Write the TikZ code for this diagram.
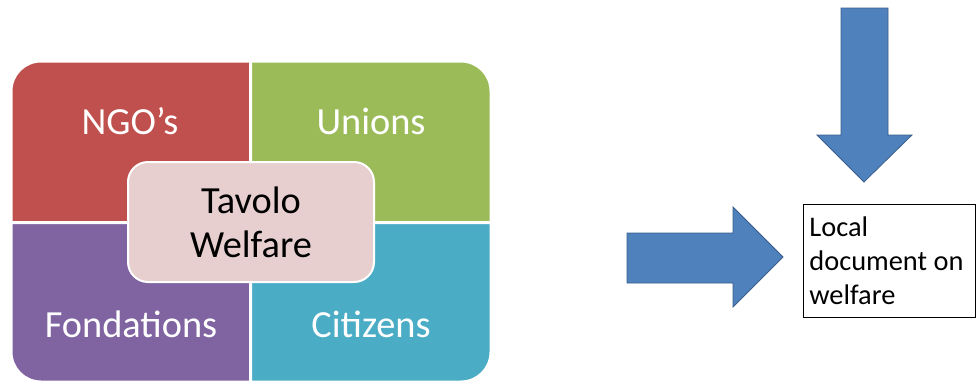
\documentclass[tikz,border=0pt]{standalone}
\usepackage{fontspec}
\setmainfont{Carlito}
\usepackage{xcolor}
\definecolor{Red}{RGB}{192,80,77}
\definecolor{Green}{RGB}{155,187,89}
\definecolor{Purple}{RGB}{128,100,162}
\definecolor{Teal}{RGB}{75,172,198}
\definecolor{Pink}{RGB}{231,207,207}
\definecolor{Blue}{RGB}{79,129,189}
\definecolor{DarkBlue}{RGB}{56,93,138}
\definecolor{Black}{RGB}{0,0,0}
\definecolor{White}{RGB}{255,255,255}
\newcommand{\bigfont}{\fontsize{38.5}{44}\selectfont}
\newcommand{\boxfont}{\fontsize{28.5}{34}\selectfont}

\begin{document}
\begin{tikzpicture}[x=1bp, y=-1bp]

		\useasboundingbox (0,0) rectangle (976,383);

		% Blocks
		\filldraw [fill=Red, draw=White, line width=3bp] (11,222.5) [rounded corners=30bp] -- (11,61) [sharp corners] -- (250.5,61) -- (250.5,222.5) -- cycle;
		\filldraw [fill=Green, draw=White, line width=3bp] (250.5,61) [rounded corners=30bp] -- (491,61) [sharp corners] -- (491,222.5) -- (250.5,222.5) -- cycle;
		\filldraw [fill=Purple, draw=White, line width=3bp] (250.5,382) [rounded corners=30bp] -- (11,382) [sharp corners] -- (11,222.5) -- (250.5,222.5) -- cycle;
		\filldraw [fill=Teal, draw=White, line width=3bp] (491,222.5) [rounded corners=30bp] -- (491,382) [sharp corners] -- (250.5,382) -- (250.5,222.5) -- cycle;

		% Names
		\node[align=center, color = White, font=\bigfont] (ngo) at (130,121) {NGO’s};
		\node[align=center, color = White, font=\bigfont] (unions) at (371,121) {Unions};
		\node[align=center, color = White, font=\bigfont] (fondations) at (131,324) {Fondations};
		\node[align=center, color = White, font=\bigfont] (citizens) at (371,324) {Citizens};

		% Centre
		\node[align=center, color = Black, font=\bigfont, fill=Pink, draw=White, line width=2bp, rounded corners=20bp, minimum width=246bp, minimum height=120bp, inner sep=0pt] (tavolo) at (251,222) {Tavolo\\Welfare};

		% Document
		\node[align=flush left, color = Black, font=\boxfont, draw=Black, line width=0.75bp, anchor=north west, minimum width=172bp, minimum height=113bp, text width=160bp, inner sep=6bp] (doc) at (803,204) {Local\\document on\\welfare};

		% Arrows
		\filldraw [fill=Blue, draw=DarkBlue, line width=0.75bp] (627,233) -- (733,233) -- (733,207) -- (783,257) -- (733,307) -- (733,283) -- (627,283) -- cycle;
		\filldraw [fill=Blue, draw=DarkBlue, line width=0.75bp] (841,8) -- (888,8) -- (888,135) -- (912,135) -- (864,182) -- (817,135) -- (841,135) -- cycle;

	\end{tikzpicture}
\end{document}
